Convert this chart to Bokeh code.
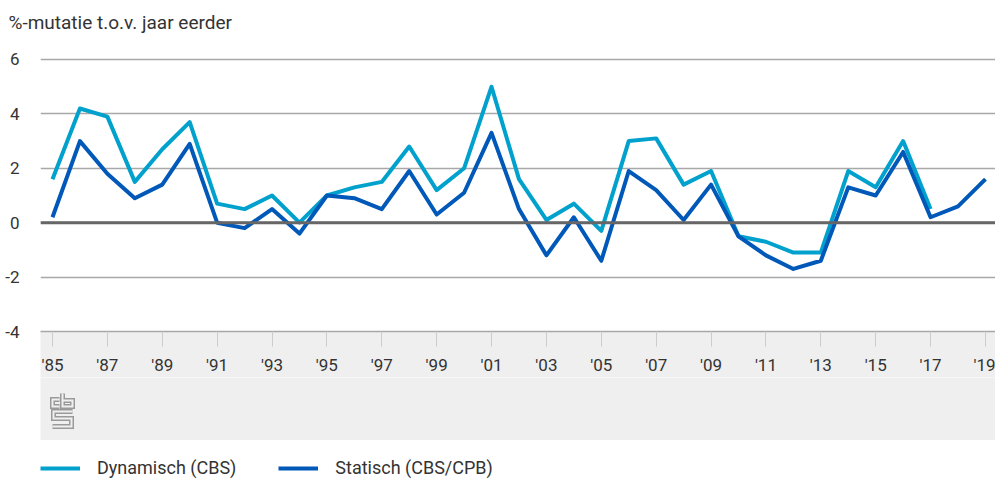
from bokeh.plotting import figure
from bokeh.models import FixedTicker, Span, Legend, LegendItem, Range1d
from bokeh.layouts import column
from bokeh.embed import file_html
from bokeh.resources import INLINE

years_dyn = list(range(1985, 2018))
years_stat = list(range(1985, 2020))
dynamisch = [1.6, 4.2, 3.9, 1.5, 2.7, 3.7, 0.7, 0.5, 1.0, 0.0,
             1.0, 1.3, 1.5, 2.8, 1.2, 2.0, 5.0, 1.6, 0.1, 0.7,
             -0.3, 3.0, 3.1, 1.4, 1.9, -0.5, -0.7, -1.1, -1.1, 1.9,
             1.3, 3.0, 0.5]
statisch = [0.2, 3.0, 1.8, 0.9, 1.4, 2.9, 0.0, -0.2, 0.5, -0.4,
            1.0, 0.9, 0.5, 1.9, 0.3, 1.1, 3.3, 0.5, -1.2, 0.2,
            -1.4, 1.9, 1.2, 0.1, 1.4, -0.5, -1.2, -1.7, -1.4, 1.3,
            1.0, 2.6, 0.2, 0.6, 1.6]
tick_years = list(range(1985, 2020, 2))
tick_labels = ["'" + str(y)[2:] for y in tick_years]
y_ticks = [-4, -2, 0, 2, 4, 6]
y_tick_labels = ["-4", "-2", "0", "2", "4", "6"]
series_names = ["Dynamisch (CBS)", "Statisch (CBS/CPB)"]
title_text = "%-mutatie t.o.v. jaar eerder"

# CBS logo outline paths (strip-local pixel coordinates)
logo_xs = [[19, 12, 12, 19], [22, 22, 32, 32, 22], [32, 13, 13, 31, 31, 12]]
logo_ys = [[22, 22, 29, 29], [16, 29, 29, 23, 23], [34, 34, 41, 41, 49, 49]]

FONT = "Roboto"
TXT = "#333333"
LIGHT = "#00a1cd"
DARK = "#0058b8"
PANEL = "#efefef"


def blank(fig):
    fig.outline_line_color = None
    fig.axis.visible = False
    fig.grid.visible = False
    fig.border_fill_color = "white"


# header strip with the title
hd = figure(width=995, height=45, output_backend="svg", toolbar_location=None,
            x_range=Range1d(0, 1), y_range=Range1d(0, 1),
            min_border_left=0, min_border_right=0, min_border_top=0, min_border_bottom=0)
blank(hd)
hd.title.text = title_text
hd.title.text_font = FONT
hd.title.text_font_size = "19px"
hd.title.text_font_style = "normal"
hd.title.text_color = TXT
hd.title.align = "left"
hd.title.offset = -32
hd.title.standoff = 16

p = figure(width=995, height=332, output_backend="svg", toolbar_location=None,
           x_range=Range1d(1984.563, 2019.366), y_range=Range1d(-4, 6.147),
           min_border_left=40, min_border_right=0, min_border_top=10, min_border_bottom=0)
p.outline_line_color = None
p.background_fill_color = "white"
p.border_fill_color = "white"

# grid
p.xgrid.grid_line_color = None
p.ygrid.ticker = FixedTicker(ticks=y_ticks)
p.ygrid.grid_line_color = "#a8a8a8"
p.ygrid.grid_line_width = 1.5

# y axis
p.yaxis.ticker = FixedTicker(ticks=y_ticks)
p.yaxis.major_label_overrides = {t: l for t, l in zip(y_ticks, y_tick_labels)}
p.yaxis.axis_line_color = None
p.yaxis.major_tick_line_color = None
p.yaxis.minor_tick_line_color = None
p.yaxis.major_label_standoff = 15
p.yaxis.major_label_text_font = FONT
p.yaxis.major_label_text_font_size = "17px"
p.yaxis.major_label_text_color = TXT

# x axis
p.xaxis.ticker = FixedTicker(ticks=tick_years)
p.xaxis.major_label_overrides = {y: l for y, l in zip(tick_years, tick_labels)}
p.xaxis.axis_line_color = "#a8a8a8"
p.xaxis.axis_line_width = 1.5
p.xaxis.major_tick_out = 15
p.xaxis.major_tick_in = 0
p.xaxis.major_tick_line_color = "#cccccc"
p.xaxis.minor_tick_line_color = None
p.xaxis.major_label_standoff = 8
p.xaxis.major_label_text_font = FONT
p.xaxis.major_label_text_font_size = "17px"
p.xaxis.major_label_text_color = TXT
p.xaxis.background_fill_color = PANEL

p.add_layout(Span(location=0, dimension="width", line_color="#666666", line_width=3))

p.line(years_dyn, dynamisch, line_color=LIGHT, line_width=4, line_join="round")
p.line(years_stat, statisch, line_color=DARK, line_width=4, line_join="round")

# grey strip with logo
st = figure(width=995, height=63, output_backend="svg", toolbar_location=None,
            x_range=Range1d(0, 955), y_range=Range1d(63, 0),
            min_border_left=0, min_border_right=0, min_border_top=0, min_border_bottom=0)
blank(st)
st.background_fill_color = PANEL
st.multi_line(logo_xs, logo_ys, line_color="#9a9a9a", line_width=5, line_join="miter")
st.multi_line(logo_xs, logo_ys, line_color=PANEL, line_width=2, line_join="miter")

# legend strip
lg = figure(width=995, height=42, output_backend="svg", toolbar_location=None,
            x_range=Range1d(0, 1), y_range=Range1d(0, 1),
            min_border_left=0, min_border_right=0, min_border_top=0, min_border_bottom=0)
blank(lg)
k1 = lg.line(years_dyn, dynamisch, line_color=LIGHT, line_width=4)
k2 = lg.line(years_stat, statisch, line_color=DARK, line_width=4)
legend = Legend(items=[LegendItem(label=series_names[0], renderers=[k1]),
                       LegendItem(label=series_names[1], renderers=[k2])],
                orientation="horizontal", location=(0, 4),
                glyph_width=40, glyph_height=20, label_height=20, label_standoff=17, spacing=42,
                padding=0, margin=0, border_line_color=None, background_fill_alpha=0,
                label_text_font=FONT, label_text_font_size="18px", label_text_color=TXT)
lg.add_layout(legend, "center")

layout = column(hd, p, st, lg, spacing=0)
open("out.html", "w").write(file_html(layout, INLINE))
